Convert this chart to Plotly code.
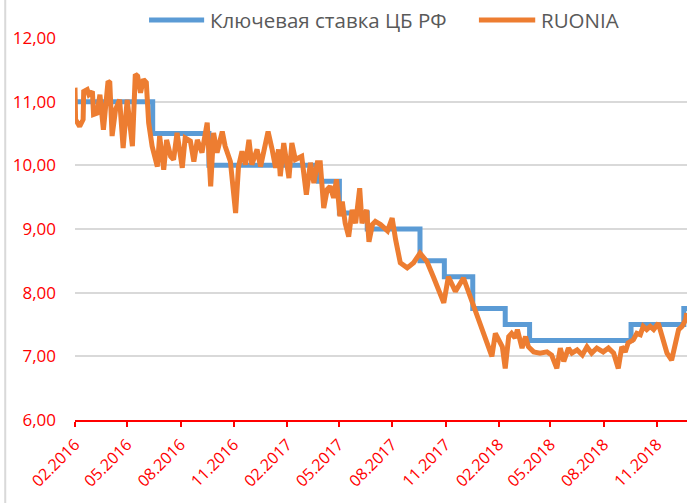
import plotly.graph_objects as go

# Key rate of the Bank of Russia (step changes)
key_dates = ["2016-02-01", "2016-06-14", "2016-09-19", "2017-03-27", "2017-05-02",
             "2017-06-19", "2017-09-18", "2017-10-30", "2017-12-18", "2018-02-12",
             "2018-03-26", "2018-09-17", "2018-12-17", "2018-12-24"]
key_rate = [11.00, 10.50, 10.00, 9.75, 9.25, 9.00, 8.50, 8.25, 7.75, 7.50,
            7.25, 7.50, 7.75, 7.75]

# RUONIA
ruonia_dates = [
    "2016-02-01", "2016-02-02", "2016-02-09", "2016-02-15", "2016-02-16", "2016-02-22",
    "2016-02-25", "2016-03-02", "2016-03-04", "2016-03-10", "2016-03-15", "2016-03-21",
    "2016-03-29", "2016-04-01", "2016-04-05", "2016-04-11", "2016-04-18", "2016-04-24",
    "2016-05-01", "2016-05-10", "2016-05-15", "2016-05-19", "2016-05-24", "2016-05-29",
    "2016-06-03", "2016-06-07", "2016-06-13", "2016-06-22", "2016-06-26", "2016-07-03",
    "2016-07-08", "2016-07-15", "2016-07-20", "2016-07-26", "2016-08-04", "2016-08-09",
    "2016-08-18", "2016-08-24", "2016-08-30", "2016-09-07", "2016-09-16", "2016-09-22",
    "2016-09-27", "2016-10-03", "2016-10-12", "2016-10-17", "2016-10-26", "2016-11-04",
    "2016-11-09", "2016-11-15", "2016-11-21", "2016-11-27", "2016-12-02", "2016-12-11",
    "2016-12-17", "2016-12-23", "2016-12-30", "2017-01-06", "2017-01-12", "2017-01-17",
    "2017-01-20", "2017-01-26", "2017-02-04", "2017-02-09", "2017-02-15", "2017-02-26",
    "2017-03-06", "2017-03-13", "2017-03-19", "2017-03-25", "2017-03-30", "2017-04-05",
    "2017-04-11", "2017-04-16", "2017-04-22", "2017-04-27", "2017-05-03", "2017-05-07",
    "2017-05-12", "2017-05-18", "2017-05-24", "2017-05-30", "2017-06-06", "2017-06-10",
    "2017-06-18", "2017-06-22", "2017-06-28", "2017-07-03", "2017-07-12", "2017-07-24",
    "2017-08-01", "2017-08-07", "2017-08-15", "2017-08-27", "2017-09-07", "2017-09-18",
    "2017-09-30", "2017-10-11", "2017-10-20", "2017-10-29", "2017-11-06", "2017-11-18",
    "2017-12-02", "2017-12-14", "2017-12-25", "2018-01-03", "2018-01-10", "2018-01-17",
    "2018-01-20", "2018-01-26", "2018-02-07", "2018-02-12", "2018-02-18", "2018-02-23",
    "2018-03-01", "2018-03-05", "2018-03-13", "2018-03-19", "2018-03-24", "2018-04-02",
    "2018-04-13", "2018-04-25", "2018-05-03", "2018-05-12", "2018-05-18", "2018-05-24",
    "2018-06-01", "2018-06-07", "2018-06-16", "2018-06-25", "2018-07-03", "2018-07-11",
    "2018-07-20", "2018-07-31", "2018-08-09", "2018-08-18", "2018-08-26", "2018-09-01",
    "2018-09-07", "2018-09-12", "2018-09-21", "2018-09-27", "2018-10-03", "2018-10-08",
    "2018-10-14", "2018-10-20", "2018-10-26", "2018-11-03", "2018-11-09", "2018-11-18",
    "2018-11-26", "2018-12-02", "2018-12-08", "2018-12-14", "2018-12-20", "2018-12-22",
]
ruonia = [
    11.22, 10.72, 10.61, 10.72, 11.16, 11.19,
    11.11, 11.16, 10.80, 10.82, 11.11, 10.56,
    11.32, 11.30, 10.46, 10.88, 11.03, 10.27,
    11.03, 10.30, 11.43, 11.40, 11.14, 11.35,
    11.30, 10.67, 10.30, 9.98, 10.46, 9.93,
    10.40, 10.14, 10.09, 10.51, 9.96, 10.43,
    10.38, 10.06, 10.40, 10.20, 10.67, 9.67,
    10.51, 10.20, 10.53, 10.30, 10.06, 9.25,
    9.98, 10.22, 10.01, 10.40, 10.01, 10.25,
    9.98, 10.25, 10.53, 10.25, 9.96, 10.25,
    9.83, 10.35, 9.80, 10.35, 10.09, 10.14,
    9.54, 10.04, 9.72, 10.04, 10.04, 9.33,
    9.62, 9.67, 9.49, 9.78, 9.20, 9.43,
    9.09, 8.88, 9.30, 9.09, 9.64, 9.09,
    9.30, 8.80, 9.07, 9.12, 9.07, 8.97,
    9.17, 8.83, 8.47, 8.39, 8.47, 8.62,
    8.49, 8.25, 8.05, 7.84, 8.25, 8.02,
    8.23, 7.94, 7.68, 7.42, 7.26, 7.07,
    7.00, 7.36, 7.15, 6.81, 7.31, 7.36,
    7.29, 7.42, 7.13, 7.31, 7.15, 7.07,
    7.05, 7.07, 7.02, 6.81, 7.13, 6.92,
    7.13, 7.05, 7.10, 7.02, 7.15, 7.05,
    7.13, 7.07, 7.13, 7.05, 6.81, 7.15,
    7.07, 7.21, 7.26, 7.36, 7.34, 7.47,
    7.42, 7.47, 7.42, 7.52, 7.34, 7.05,
    6.94, 7.18, 7.42, 7.47, 7.57, 7.68,
]

tick_vals = ["2016-02-01", "2016-05-01", "2016-08-01", "2016-11-01",
             "2017-02-01", "2017-05-01", "2017-08-01", "2017-11-01",
             "2018-02-01", "2018-05-01", "2018-08-01", "2018-11-01"]
tick_text = ["02.2016", "05.2016", "08.2016", "11.2016",
             "02.2017", "05.2017", "08.2017", "11.2017",
             "02.2018", "05.2018", "08.2018", "11.2018"]

names = ["Ключевая ставка ЦБ РФ", "RUONIA"]
colors = ["#5B9BD5", "#ED7D31"]

fig = go.Figure()
fig.add_trace(go.Scatter(x=key_dates, y=key_rate, mode="lines", name=names[0],
                         line=dict(color=colors[0], width=5, shape="hv"),
                         showlegend=False))
fig.add_trace(go.Scatter(x=ruonia_dates, y=ruonia, mode="lines", name=names[1],
                         line=dict(color=colors[1], width=5, shape="linear"),
                         showlegend=False))

font_family = "Open Sans"
red = "#FF0000"

# Manual legend
legend_items = [(0.121, 0.211, 0.217), (0.660, 0.752, 0.7575)]
for (x0, x1, xt), nm, col in zip(legend_items, names, colors):
    fig.add_shape(type="line", xref="paper", yref="paper", x0=x0, x1=x1,
                  y0=1.047, y1=1.047, line=dict(color=col, width=5))
    fig.add_annotation(xref="paper", yref="paper", x=xt, y=1.047, text=nm,
                       showarrow=False, xanchor="left", yanchor="middle",
                       font=dict(family=font_family, size=20.5, color="#595959"))

# Chart border at the left edge
fig.add_shape(type="line", xref="paper", yref="paper", x0=-0.114, x1=-0.114,
              y0=-0.25, y1=1.12, line=dict(color="#D9D9D9", width=2))

fig.update_layout(
    width=687, height=503,
    margin=dict(l=75, r=0, t=38, b=83, autoexpand=False),
    paper_bgcolor="white", plot_bgcolor="white",
    separators=", ",
    font=dict(family=font_family, size=17, color=red),
    xaxis=dict(
        type="date", range=["2016-02-01", "2018-12-22 12:00"], automargin=False,
        tickmode="array", tickvals=tick_vals, ticktext=tick_text,
        tickangle=-45, showgrid=False, zeroline=False,
        showline=True, linecolor=red, linewidth=2,
        ticks="outside", ticklen=5, tickwidth=2, tickcolor=red,
        ticklabelstandoff=2,
        tickfont=dict(family=font_family, size=16, color=red),
    ),
    yaxis=dict(
        range=[6, 12], tickvals=[6, 7, 8, 9, 10, 11, 12], tickformat=".2f",
        automargin=False,
        showgrid=True, gridcolor="#D9D9D9", gridwidth=1.5, zeroline=False,
        showline=False, ticks="", ticklabelstandoff=18,
        tickfont=dict(family=font_family, size=17, color=red),
    ),
)

fig.write_html(
    "out.html",
    config={"displayModeBar": False},
    post_script="document.body.style.margin='0';document.body.style.overflow='hidden';",
)
